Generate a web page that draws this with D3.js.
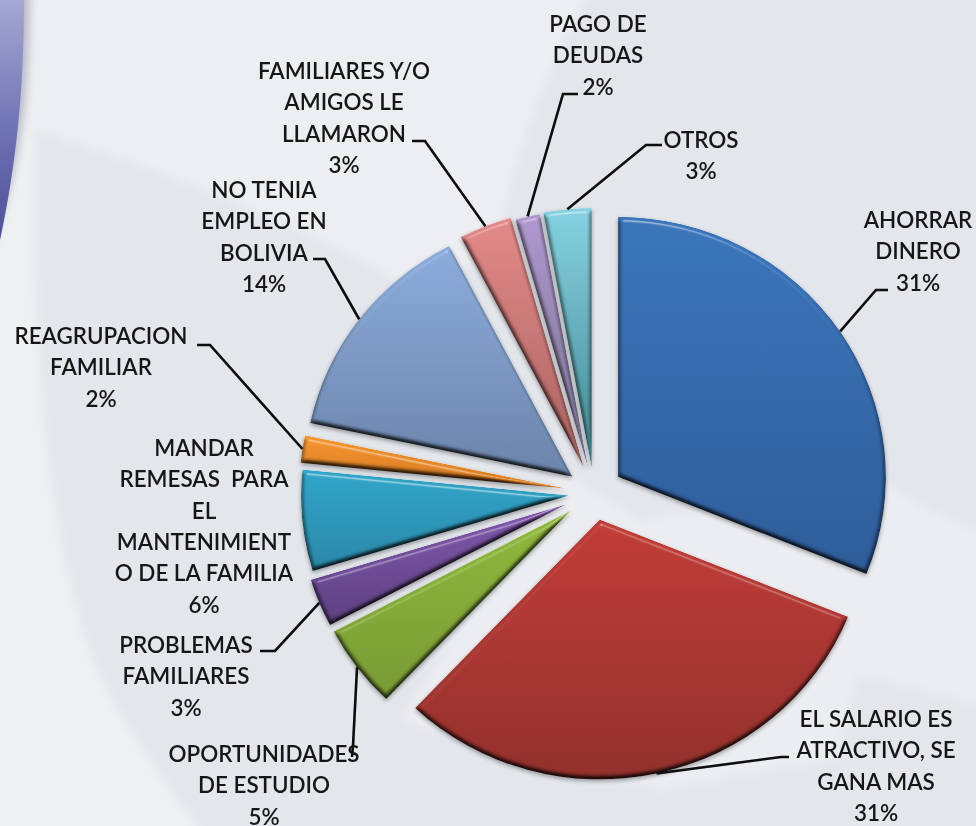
<!DOCTYPE html>
<html>
<head>
<meta charset="utf-8">
<script src="https://cdnjs.cloudflare.com/ajax/libs/d3/7.8.5/d3.min.js"></script>
<style>
  html, body { margin: 0; padding: 0; background: #e3e6eb; overflow: hidden; }
  text { font-family: Lato, "Open Sans", sans-serif; fill: #161616; white-space: pre; }
</style>
</head>
<body>
<div id="chart"></div>
<script>
// data, shares (labels show them rounded)
const categories = ["AHORRAR|DINERO", "EL SALARIO ES|ATRACTIVO, SE|GANA MAS", "OPORTUNIDADES|DE ESTUDIO",
  "PROBLEMAS|FAMILIARES", "MANDAR|REMESAS  PARA|EL|MANTENIMIENT|O DE LA FAMILIA", "REAGRUPACION|FAMILIAR",
  "NO TENIA|EMPLEO EN|BOLIVIA", "FAMILIARES Y/O|AMIGOS LE|LLAMARON", "PAGO DE|DEUDAS", "OTROS"];
const values = [31.1, 31, 5.2, 3.0, 6.3, 1.7, 14.1, 3.2, 1.5, 2.9];
const explode = [29, 27, 29, 29, 25, 27, 27, 27, 24, 25];
const colorsTop = ["#3a75bb", "#c23c37", "#90ba3b", "#8258ae", "#30a6ca", "#f6972f", "#8cacdc", "#e38a87", "#b098d0", "#86d2e2"];
const colorsBottom = ["#2e5c9a", "#92302c", "#789a34", "#5c3f80", "#2a87a8", "#d67820", "#6a84aa", "#a86160", "#73708c", "#3f8791"];

// label placement: centre x, first baseline, then leader elbow and end
const labelX = [918, 876, 264, 186, 204, 101, 264, 344, 598, 701];
const labelY = [228, 727, 762, 653, 456, 344, 198, 79, 32, 148];
const elbowX = [876, 781, 353, 275, 0, 210, 325, 425, 563, 646];
const elbowY = [290, 757, 746, 651, 0, 345, 259, 141, 94, 145];
const endX = [888, 789, 352, 260, 0, 197, 313, 412, 578, 662];
const endY = [290, 757, 757, 651, 0, 345, 259, 141, 94, 145];

const width = 976, height = 826;
const cx = 594, cy = 493, rx = 268, ry = 260, lineStep = 31.3;

const svg = d3.select("#chart").append("svg")
  .attr("width", width).attr("height", height)
  .style("display", "block");
const defs = svg.append("defs");

// backdrop of the slide
const strip = defs.append("linearGradient").attr("id", "strip")
  .attr("x1", 0).attr("y1", 0).attr("x2", 0).attr("y2", 1);
strip.append("stop").attr("offset", 0).attr("stop-color", "#a5a8d2");
strip.append("stop").attr("offset", 0.6).attr("stop-color", "#6a6db0");
strip.append("stop").attr("offset", 1).attr("stop-color", "#4c5098");

const soft = defs.append("filter").attr("id", "soft");
soft.append("feGaussianBlur").attr("stdDeviation", 4);

const bg = svg.append("g");
bg.append("rect").attr("width", width).attr("height", height).attr("fill", "#e3e6eb");
const bgSoft = bg.append("g").attr("filter", "url(#soft)");
bgSoft.append("path").attr("fill", "#eceef1")
  .attr("d", "M-10,-10 L592,-10 C550,60 510,160 495,260 L400,282 C300,225 150,165 35,130 L-10,130 Z");
bgSoft.append("path").attr("fill", "#eff0f2")
  .attr("d", "M-10,120 L35,130 C32,300 40,520 95,665 C125,730 170,790 205,836 L-10,836 Z");
bgSoft.append("path").attr("fill", "#ebedf0")
  .attr("d", "M560,470 L640,520 L880,480 C910,500 945,520 986,532 L986,706 C930,695 890,680 858,676 L835,760 L660,790 L400,720 Z");
bgSoft.append("path").attr("fill", "#b9bac8")
  .attr("d", "M-10,-10 L30,-10 C30,90 22,170 -10,250 Z");
bg.append("path").attr("fill", "url(#strip)")
  .attr("d", "M0,0 L24,0 C24,90 16,165 0,240 Z");

// bevel look of the slices
const bevel = defs.append("filter").attr("id", "bevel")
  .attr("x", "-15%").attr("y", "-15%").attr("width", "130%").attr("height", "130%")
  .attr("color-interpolation-filters", "sRGB");
bevel.append("feGaussianBlur").attr("in", "SourceAlpha").attr("stdDeviation", 2.6).attr("result", "blur");
bevel.append("feDiffuseLighting").attr("in", "blur").attr("surfaceScale", 4).attr("diffuseConstant", 1.16)
  .attr("lighting-color", "#fff").attr("result", "diff")
  .append("feDistantLight").attr("azimuth", 270).attr("elevation", 60);
bevel.append("feBlend").attr("in", "SourceGraphic").attr("in2", "diff").attr("mode", "multiply").attr("result", "blend");
bevel.append("feComposite").attr("in", "blend").attr("in2", "SourceAlpha").attr("operator", "in").attr("result", "shaded");
bevel.append("feSpecularLighting").attr("in", "blur").attr("surfaceScale", 4).attr("specularConstant", 0.5)
  .attr("specularExponent", 55).attr("lighting-color", "#fff").attr("result", "spec")
  .append("feDistantLight").attr("azimuth", 270).attr("elevation", 45);
bevel.append("feComposite").attr("in", "spec").attr("in2", "SourceAlpha").attr("operator", "in").attr("result", "specIn");
bevel.append("feGaussianBlur").attr("in", "SourceAlpha").attr("stdDeviation", 2).attr("result", "sh");
bevel.append("feOffset").attr("in", "sh").attr("dy", 2).attr("result", "shOff");
bevel.append("feComponentTransfer").attr("in", "shOff").attr("result", "shadow")
  .append("feFuncA").attr("type", "linear").attr("slope", 0.35);
const merge = bevel.append("feMerge");
merge.append("feMergeNode").attr("in", "shadow");
merge.append("feMergeNode").attr("in", "shaded");
merge.append("feMergeNode").attr("in", "specIn");

// the source is a blurry screenshot, text and lines get a touch of that too
const textBlur = defs.append("filter").attr("id", "textBlur");
textBlur.append("feGaussianBlur").attr("stdDeviation", 0.45);

const pie = d3.pie().sort(null).value(d => d);
const arcs = pie(values);
const arc = d3.arc().innerRadius(0).outerRadius(1);

// where a slice sits once it is pulled out along its middle angle
function midAngle(d) { return (d.startAngle + d.endAngle) / 2; }
function apex(d, i) {
  const a = midAngle(d);
  return [cx + explode[i] * Math.sin(a), cy - explode[i] * Math.cos(a)];
}

arcs.forEach((d, i) => {
  const g = defs.append("linearGradient").attr("id", "slice" + i)
    .attr("x1", 0).attr("y1", 0).attr("x2", 0).attr("y2", 1);
  g.append("stop").attr("offset", 0).attr("stop-color", colorsTop[i]);
  g.append("stop").attr("offset", 1).attr("stop-color", colorsBottom[i]);
});

// the filter has to work in screen pixels, so each scaled slice sits in a filtered group
const sliceLayer = svg.append("g");
arcs.forEach((d, i) => {
  const p = apex(d, i);
  sliceLayer.append("g").attr("filter", "url(#bevel)")
    .append("path")
    .attr("d", arc(d))
    .attr("transform", `translate(${p[0]},${p[1]}) scale(${rx},${ry})`)
    .attr("fill", `url(#slice${i})`);
});

// leader lines, from the middle of each slice's outer edge
const line = d3.line();
const leaderLayer = svg.append("g").attr("filter", "url(#textBlur)");
arcs.forEach((d, i) => {
  if (!endX[i]) return; // the remittances label sits next to its slice
  const p = apex(d, i), a = midAngle(d);
  const start = [p[0] + rx * Math.sin(a), p[1] - ry * Math.cos(a)];
  leaderLayer.append("path")
    .attr("d", line([start, [elbowX[i], elbowY[i]], [endX[i], endY[i]]]))
    .attr("fill", "none").attr("stroke", "#0a0a0a").attr("stroke-width", 2.6);
});

// data labels
const labelLayer = svg.append("g").attr("filter", "url(#textBlur)");
arcs.forEach((d, i) => {
  const rows = categories[i].split("|").concat(Math.round(values[i]) + "%");
  const t = labelLayer.append("text")
    .attr("text-anchor", "middle")
    .attr("font-size", 22.4)
    .attr("font-weight", 600);
  rows.forEach((r, k) => {
    t.append("tspan").attr("x", labelX[i]).attr("y", labelY[i] + k * lineStep).text(r);
  });
});
</script>
</body>
</html>
